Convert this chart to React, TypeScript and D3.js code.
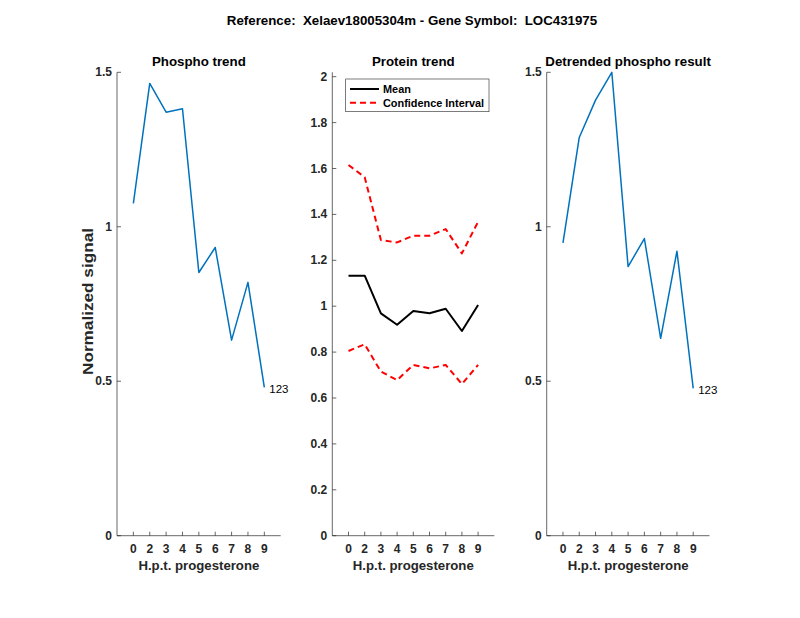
import React from "react";
import * as d3 from "d3";

const categories = ["0", "2", "3", "4", "5", "6", "7", "8", "9"];
const phosphoTrend = [1.076, 1.464, 1.371, 1.382, 0.852, 0.933, 0.633, 0.82, 0.48];
const proteinMean = [1.133, 1.133, 0.969, 0.919, 0.979, 0.969, 0.989, 0.892, 1.005];
const proteinUpper = [1.615, 1.562, 1.288, 1.278, 1.307, 1.307, 1.336, 1.23, 1.368];
const proteinLower = [0.805, 0.834, 0.715, 0.678, 0.744, 0.729, 0.744, 0.661, 0.744];
const detrended = [0.948, 1.289, 1.41, 1.5, 0.871, 0.962, 0.639, 0.921, 0.477];
const phosphoTicks = [0, 0.5, 1, 1.5];
const proteinTicks = [0, 0.2, 0.4, 0.6, 0.8, 1, 1.2, 1.4, 1.6, 1.8, 2];
const endLabel = "123";

const FONT = "'Liberation Sans', Arial, Helvetica, sans-serif";
const AX = "#262626";
const TOP = 72.3;
const BOTTOM = 535.7;

type Series = { values: number[]; color: string; width: number; dash?: string };

function Panel(props: {
  x0: number;
  x1: number;
  yMax: number;
  ticks: number[];
  fmt: (v: number) => string;
  title: string;
  series: Series[];
  label?: string;
  ylabel?: string;
  children?: React.ReactNode;
}) {
  const { x0, x1, yMax, ticks, fmt, title, series, label, ylabel } = props;
  const x = d3.scaleLinear().domain([0, categories.length + 1]).range([x0, x1]);
  const y = d3.scaleLinear().domain([0, yMax]).range([BOTTOM, TOP]);
  const line = d3
    .line<number>()
    .x((_, i) => x(i + 1))
    .y((v) => y(v));
  const last = series[0].values;
  return (
    <g>
      <line x1={x0} x2={x0} y1={TOP} y2={BOTTOM} stroke={AX} strokeWidth={0.7} />
      <line x1={x0} x2={x1} y1={BOTTOM} y2={BOTTOM} stroke={AX} strokeWidth={0.7} />
      {ticks.map((t) => (
        <g key={"y" + t}>
          <line x1={x0} x2={x0 + 4} y1={y(t)} y2={y(t)} stroke={AX} strokeWidth={0.7} />
          <text
            x={x0 - 5}
            y={y(t)}
            textAnchor="end"
            dominantBaseline="central"
            fontSize={12}
            fontWeight="bold"
            fill={AX}
          >
            {fmt(t)}
          </text>
        </g>
      ))}
      {categories.map((c, i) => (
        <g key={"x" + c}>
          <line x1={x(i + 1)} x2={x(i + 1)} y1={BOTTOM} y2={BOTTOM - 4} stroke={AX} strokeWidth={0.7} />
          <text
            x={x(i + 1)}
            y={549}
            textAnchor="middle"
            dominantBaseline="central"
            fontSize={12}
            fontWeight="bold"
            fill={AX}
          >
            {c}
          </text>
        </g>
      ))}
      <text
        x={(x0 + x1) / 2}
        y={565}
        textAnchor="middle"
        dominantBaseline="central"
        fontSize={13.2}
        fontWeight="bold"
        fill={AX}
      >
        H.p.t. progesterone
      </text>
      <text
        x={(x0 + x1) / 2}
        y={61}
        textAnchor="middle"
        dominantBaseline="central"
        fontSize={13.3}
        fontWeight="bold"
        fill="#000"
      >
        {title}
      </text>
      {ylabel && (
        <text
          transform={`translate(${87},${301.5}) rotate(-90)`}
          textAnchor="middle"
          dominantBaseline="central"
          fontSize={15}
          fontWeight="bold"
          fill={AX}
          textLength={147}
          lengthAdjust="spacingAndGlyphs"
        >
          {ylabel}
        </text>
      )}
      {series.map((s, k) => (
        <path
          key={k}
          d={line(s.values) || ""}
          fill="none"
          stroke={s.color}
          strokeWidth={s.width}
          strokeDasharray={s.dash}
          strokeLinejoin="round"
        />
      ))}
      {label && (
        <text
          x={x(last.length) + 5}
          y={y(last[last.length - 1]) + 2}
          dominantBaseline="central"
          fontSize={11.5}
          fill="#000"
        >
          {label}
        </text>
      )}
      {props.children}
    </g>
  );
}

export default function App() {
  const fmt1 = (v: number) => String(Math.round(v * 10) / 10);
  return (
    <svg width={800} height={618} style={{ display: "block", fontFamily: FONT, position: "absolute", left: 0, top: 0 }}>
      <rect width={800} height={618} fill="#fff" />
      <text
        x={412}
        y={20}
        textAnchor="middle"
        dominantBaseline="central"
        fontSize={13.3}
        fontWeight="bold"
        fill="#000"
        style={{ whiteSpace: "pre" }}
      >
        {"Reference:  Xelaev18005304m - Gene Symbol:  LOC431975"}
      </text>
      <Panel
        x0={117}
        x1={280.7}
        yMax={1.5}
        ticks={phosphoTicks}
        fmt={fmt1}
        title="Phospho trend"
        series={[{ values: phosphoTrend, color: "#0072BD", width: 1.5 }]}
        label={endLabel}
        ylabel="Normalized signal"
      />
      <Panel
        x0={332.3}
        x1={494.3}
        yMax={(BOTTOM - TOP) / 229.5}
        ticks={proteinTicks}
        fmt={fmt1}
        title="Protein trend"
        series={[
          { values: proteinMean, color: "#000", width: 2 },
          { values: proteinUpper, color: "#FF0000", width: 2, dash: "6,4" },
          { values: proteinLower, color: "#FF0000", width: 2, dash: "6,4" },
        ]}
      >
        <g>
          <rect x={345.7} y={79} width={143.3} height={32.7} fill="#fff" stroke={AX} strokeWidth={0.6} />
          <line x1={350} x2={379} y1={89} y2={89} stroke="#000" strokeWidth={2} />
          <text x={383} y={89} dominantBaseline="central" fontSize={10.9} fontWeight="bold" fill="#000">
            Mean
          </text>
          <line x1={350} x2={379} y1={102.7} y2={102.7} stroke="#FF0000" strokeWidth={2} strokeDasharray="6,4" />
          <text x={383} y={102.7} dominantBaseline="central" fontSize={10.9} fontWeight="bold" fill="#000">
            Confidence Interval
          </text>
        </g>
      </Panel>
      <Panel
        x0={546.7}
        x1={709.5}
        yMax={1.5}
        ticks={phosphoTicks}
        fmt={fmt1}
        title="Detrended phospho result"
        series={[{ values: detrended, color: "#0072BD", width: 1.5 }]}
        label={endLabel}
      />
    </svg>
  );
}
